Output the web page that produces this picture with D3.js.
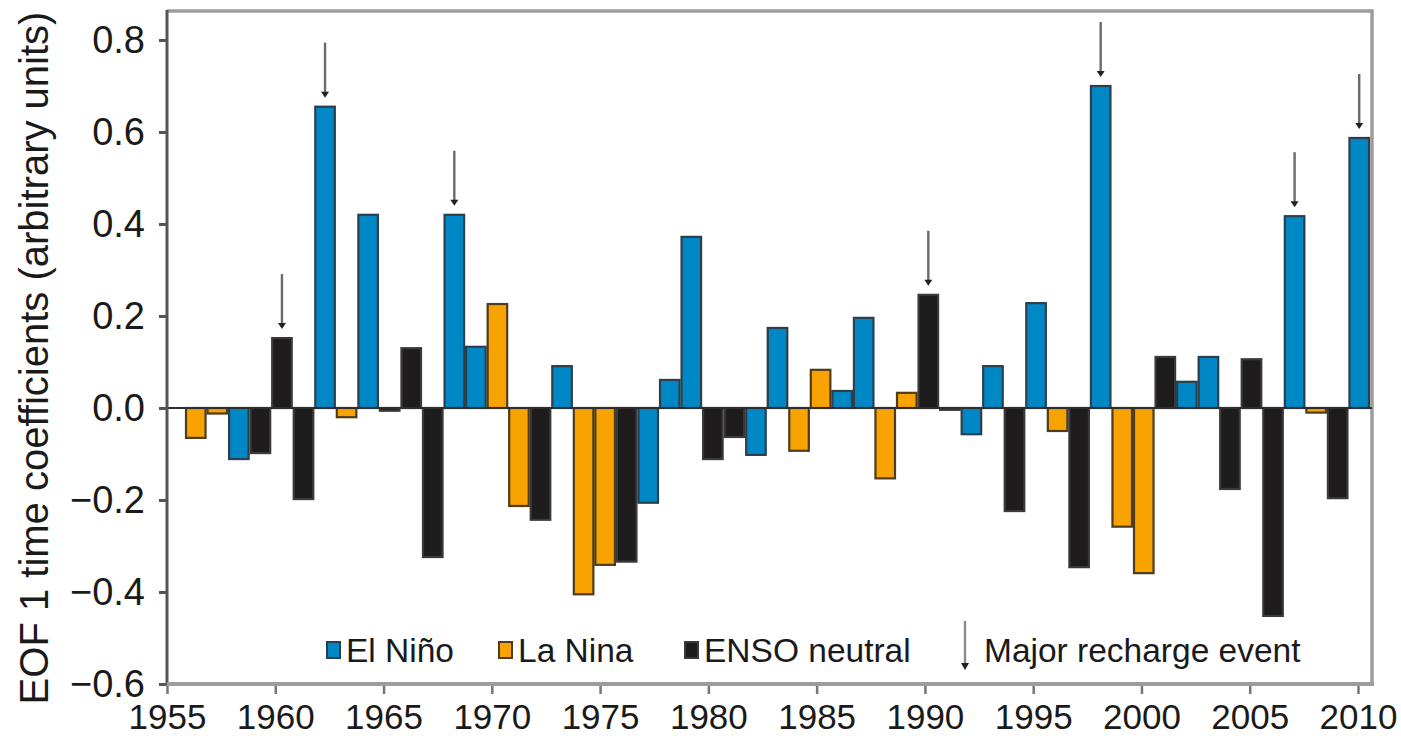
<!DOCTYPE html>
<html>
<head>
<meta charset="utf-8">
<script src="https://cdn.jsdelivr.net/npm/d3@7"></script>
<style>
  html, body { margin: 0; padding: 0; background: #fff; }
  svg { display: block; }
  text { font-family: "Liberation Sans", Arial, sans-serif; fill: #1a1a1a; }
</style>
</head>
<body>
<svg id="chart" width="1401" height="743"></svg>
<script>
// Years of the EOF 1 time series
const years = [1956, 1957, 1958, 1959, 1960, 1961, 1962, 1963, 1964, 1965,
               1966, 1967, 1968, 1969, 1970, 1971, 1972, 1973, 1974, 1975,
               1976, 1977, 1978, 1979, 1980, 1981, 1982, 1983, 1984, 1985,
               1986, 1987, 1988, 1989, 1990, 1991, 1992, 1993, 1994, 1995,
               1996, 1997, 1998, 1999, 2000, 2001, 2002, 2003, 2004, 2005,
               2006, 2007, 2008, 2009, 2010];

// EOF 1 time coefficients (arbitrary units)
const coefficients = [-0.065, -0.012, -0.111, -0.098, 0.152, -0.198, 0.655, -0.020, 0.420, -0.006,
                      0.130, -0.324, 0.420, 0.133, 0.226, -0.213, -0.243, 0.091, -0.405, -0.341,
                      -0.334, -0.206, 0.061, 0.372, -0.111, -0.063, -0.102, 0.174, -0.093, 0.083,
                      0.037, 0.196, -0.153, 0.033, 0.246, -0.004, -0.057, 0.091, -0.224, 0.228,
                      -0.050, -0.346, 0.700, -0.258, -0.359, 0.111, 0.057, 0.111, -0.176, 0.106,
                      -0.452, 0.417, -0.010, -0.196, 0.587];

// ENSO phase of each year: E = El Niño, L = La Nina, N = ENSO neutral
const phases = ["L", "L", "E", "N", "N", "N", "E", "L", "E", "N",
                "N", "N", "E", "E", "L", "L", "N", "E", "L", "L",
                "N", "E", "E", "E", "N", "N", "E", "E", "L", "L",
                "E", "E", "L", "L", "N", "N", "E", "E", "N", "E",
                "L", "N", "E", "L", "L", "N", "E", "E", "N", "N",
                "N", "E", "L", "N", "E"];

// Years flagged as major recharge events
const rechargeYears = [1960, 1962, 1968, 1990, 1998, 2007, 2010];

const yTicks = [-0.6, -0.4, -0.2, 0.0, 0.2, 0.4, 0.6, 0.8];
const xTicks = [1955, 1960, 1965, 1970, 1975, 1980, 1985, 1990, 1995, 2000, 2005, 2010];

const phaseKeys = ["E", "L", "N"];
const phaseNames = ["El Niño", "La Nina", "ENSO neutral"];
const phaseFill = ["#0088c6", "#f8a300", "#1e1c1d"];
const phaseStroke = ["#2b3f4c", "#4f3c1c", "#3a3a3a"];

const svg = d3.select("#chart");

const frame = { left: 167, right: 1372, top: 11, bottom: 684 };

const y = d3.scaleLinear().domain([-0.6, 0.8]).range([684, 40]);
const xYear = d3.scaleLinear().domain([1955, 2010]).range([167, 1358]);
const xBar = d3.scaleBand().domain(years).range([185, 1370]).paddingInner(0);

const fillOf = d3.scaleOrdinal().domain(phaseKeys).range(phaseFill);
const strokeOf = d3.scaleOrdinal().domain(phaseKeys).range(phaseStroke);

const data = years.map((yr, i) => ({ year: yr, value: coefficients[i], phase: phases[i] }));

// Frame (top and right edges)
svg.append("path")
  .attr("d", `M${frame.left},${frame.top}H${frame.right}V${frame.bottom}`)
  .attr("fill", "none")
  .attr("stroke", "#9c9c9c")
  .attr("stroke-width", 3.5);

// Bars
svg.append("g").selectAll("rect")
  .data(data)
  .join("rect")
  .attr("x", d => xBar(d.year) + 1)
  .attr("width", xBar.bandwidth() - 2)
  .attr("y", d => y(Math.max(0, d.value)))
  .attr("height", d => Math.max(1, Math.abs(y(d.value) - y(0))))
  .attr("fill", d => fillOf(d.phase))
  .attr("stroke", d => strokeOf(d.phase))
  .attr("stroke-width", 2.2);

// Zero line
svg.append("line")
  .attr("x1", frame.left).attr("x2", frame.right)
  .attr("y1", y(0)).attr("y2", y(0))
  .attr("stroke", "#2e2e2e")
  .attr("stroke-width", 2.2);

// Recharge-event arrows
function arrow(g, x, yTop, yTip) {
  g.append("line")
    .attr("x1", x).attr("x2", x)
    .attr("y1", yTop).attr("y2", yTip - 4)
    .attr("stroke", "#6a6a6a")
    .attr("stroke-width", 2.4);
  g.append("path")
    .attr("d", `M${x - 4},${yTip - 6}L${x + 4},${yTip - 6}L${x},${yTip}Z`)
    .attr("fill", "#222");
}

const arrows = svg.append("g");
data.filter(d => rechargeYears.includes(d.year)).forEach(d => {
  const top = y(Math.max(0, d.value));
  arrow(arrows, xBar(d.year) + xBar.bandwidth() / 2, top - 64, top - 9);
});

// Y axis
const yAxis = d3.axisLeft(y).tickValues(yTicks).tickSize(8).tickPadding(14)
  .tickFormat(d => d3.format(".1f")(d).replace("-", "\u2212"));
const yg = svg.append("g").attr("transform", `translate(${frame.left},0)`).call(yAxis);
yg.select(".domain").remove();
yg.selectAll(".tick line").attr("stroke", "#555").attr("stroke-width", 3);
yg.selectAll(".tick text").attr("font-size", 38).attr("fill", "#1a1a1a");
svg.append("line")
  .attr("x1", frame.left).attr("x2", frame.left)
  .attr("y1", frame.top - 1).attr("y2", frame.bottom + 2)
  .attr("stroke", "#555").attr("stroke-width", 3);

// X axis
const xAxis = d3.axisBottom(xYear).tickValues(xTicks).tickSize(10).tickPadding(10)
  .tickFormat(d3.format("d"));
const xg = svg.append("g").attr("transform", `translate(0,${frame.bottom})`).call(xAxis);
xg.select(".domain").remove();
xg.selectAll(".tick line").attr("stroke", "#777").attr("stroke-width", 2.5);
xg.selectAll(".tick text").attr("font-size", 35).attr("fill", "#1a1a1a");
svg.append("line")
  .attr("x1", frame.left).attr("x2", frame.right + 2)
  .attr("y1", frame.bottom).attr("y2", frame.bottom)
  .attr("stroke", "#9c9c9c").attr("stroke-width", 4);

// Y axis title
svg.append("text")
  .attr("transform", "translate(48,358) rotate(-90)")
  .attr("text-anchor", "middle")
  .attr("font-size", 40)
  .text("EOF 1 time coefficients (arbitrary units)");

// Legend
const legend = svg.append("g");
const legendX = [327, 499, 685];
phaseKeys.forEach((k, i) => {
  legend.append("rect")
    .attr("x", legendX[i]).attr("y", 642)
    .attr("width", 13).attr("height", 16)
    .attr("fill", fillOf(k))
    .attr("stroke", strokeOf(k))
    .attr("stroke-width", 2);
  legend.append("text")
    .attr("x", legendX[i] + 19).attr("y", 662)
    .attr("font-size", 33.5)
    .text(phaseNames[i]);
});
legend.append("line")
  .attr("x1", 965).attr("x2", 965)
  .attr("y1", 621).attr("y2", 664)
  .attr("stroke", "#8a8a8a").attr("stroke-width", 2.4);
legend.append("path")
  .attr("d", "M961,663L969,663L965,670Z")
  .attr("fill", "#222");
legend.append("text")
  .attr("x", 984).attr("y", 662)
  .attr("font-size", 33.5)
  .text("Major recharge event");
</script>
</body>
</html>
